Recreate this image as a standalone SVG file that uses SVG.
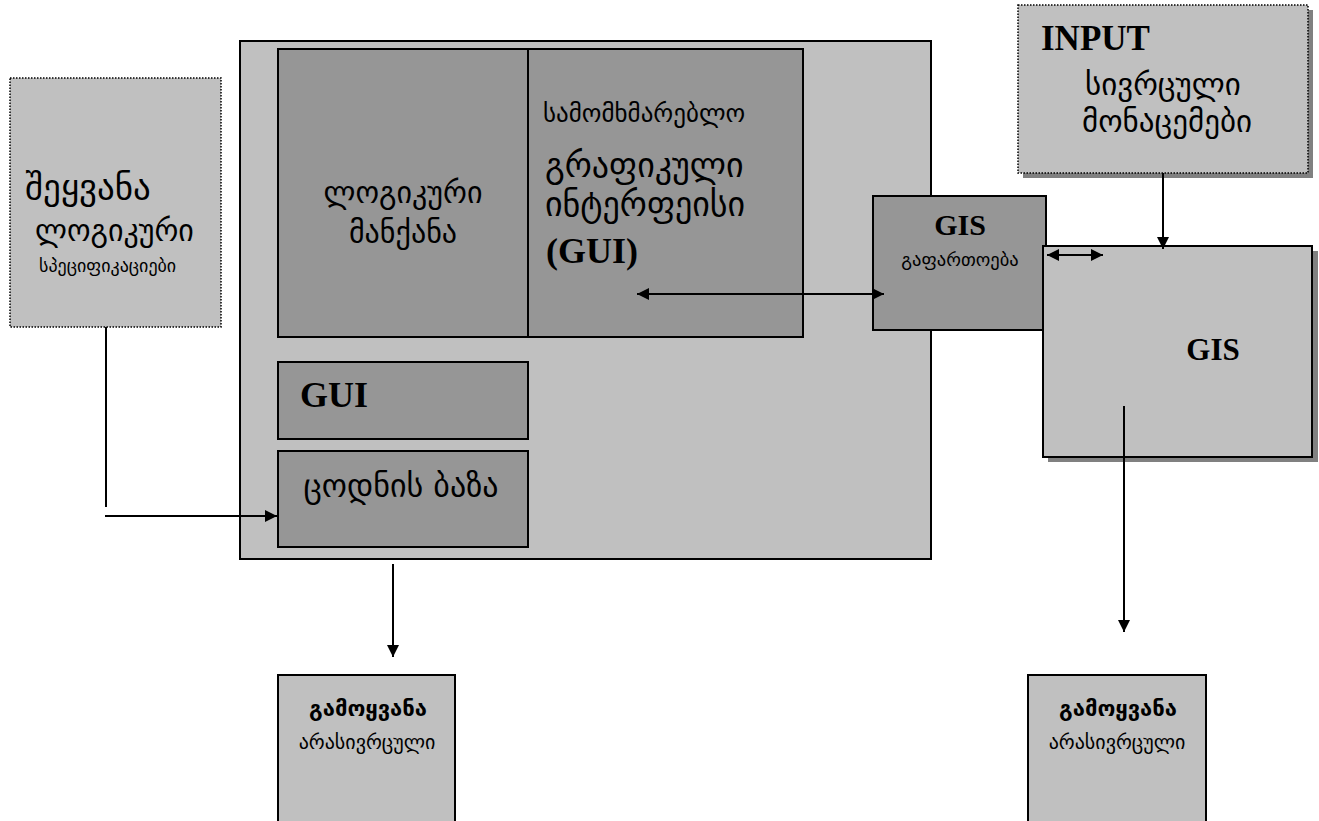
<svg xmlns="http://www.w3.org/2000/svg" width="1319" height="821" viewBox="0 0 1319 821">
<style>
.light{fill:#c0c0c0;stroke:#000;stroke-width:2}
.dark{fill:#969696;stroke:#000;stroke-width:2}
.dotted{fill:#c0c0c0;stroke:#000;stroke-width:1.5;stroke-dasharray:1.5 1.5}
.shadow{fill:#808080}
.ka{font-family:"DejaVu Sans","Noto Sans",sans-serif;fill:#000}
.lat{font-family:"Liberation Serif","Times New Roman",serif;font-weight:bold;fill:#000}
.ln{stroke:#000;stroke-width:2;fill:none}
</style>
<defs>
<marker id="ah" viewBox="0 0 10 10" refX="10" refY="5" markerWidth="14" markerHeight="12" markerUnits="userSpaceOnUse" orient="auto-start-reverse">
<path d="M0,0 L10,5 L0,10 Z" fill="#000"/>
</marker>
</defs>
<rect width="1319" height="821" fill="#fff"/>

<g id="input-logic">
<rect class="dotted" x="10" y="78" width="211" height="249"/>
<text class="ka" x="25" y="199" font-size="35">შეყვანა</text>
<text class="ka" x="35" y="241" font-size="30">ლოგიკური</text>
<text class="ka" x="39" y="272" font-size="18">სპეციფიკაციები</text>
</g>

<g id="main">
<rect class="light" x="240" y="41" width="691" height="518"/>
</g>

<g id="logic-machine">
<rect class="dark" x="278" y="49" width="250" height="288"/>
<text class="ka" x="403" y="203" font-size="30" text-anchor="middle">ლოგიკური</text>
<text class="ka" x="403" y="243" font-size="30" text-anchor="middle">მანქანა</text>
</g>

<g id="gui-interface">
<rect class="dark" x="528" y="49" width="275" height="288"/>
<text class="ka" x="543" y="122" font-size="25">სამომხმარებლო</text>
<text class="ka" x="545" y="177" font-size="34">გრაფიკული</text>
<text class="ka" x="545" y="216" font-size="34">ინტერფეისი</text>
<text class="lat" x="546" y="263" font-size="36">(GUI)</text>
</g>

<g id="gui">
<rect class="dark" x="278" y="362" width="250" height="77"/>
<text class="lat" x="300" y="407" font-size="36">GUI</text>
</g>

<g id="knowledge-base">
<rect class="dark" x="278" y="451" width="250" height="96"/>
<text class="ka" x="401" y="497" font-size="32" text-anchor="middle">ცოდნის ბაზა</text>
</g>

<g id="gis-extension">
<rect class="dark" x="873" y="196" width="173" height="134"/>
<text class="lat" x="960" y="235" font-size="30" text-anchor="middle">GIS</text>
<text class="ka" x="960" y="266" font-size="18.5" text-anchor="middle">გაფართოება</text>
</g>

<g id="input-spatial">
<rect class="shadow" x="1023" y="10" width="290" height="168"/>
<rect class="dotted" x="1018" y="5" width="290" height="168"/>
<text class="lat" x="1041" y="50" font-size="35">INPUT</text>
<text class="ka" x="1085" y="95" font-size="31">სივრცული</text>
<text class="ka" x="1082" y="132" font-size="31">მონაცემები</text>
</g>

<g id="gis">
<rect class="shadow" x="1048" y="251" width="270" height="211"/>
<rect class="light" x="1043" y="246" width="269" height="211"/>
<text class="lat" x="1213" y="360" font-size="31" text-anchor="middle">GIS</text>
</g>

<g id="output-left">
<rect class="light" x="278" y="675" width="177" height="160"/>
<text class="ka" x="368" y="716" font-size="22" font-weight="bold" text-anchor="middle">გამოყვანა</text>
<text class="ka" x="367" y="749" font-size="20" text-anchor="middle">არასივრცული</text>
</g>

<g id="output-right">
<rect class="light" x="1028" y="675" width="178" height="160"/>
<text class="ka" x="1118" y="716" font-size="22" font-weight="bold" text-anchor="middle">გამოყვანა</text>
<text class="ka" x="1117" y="749" font-size="20" text-anchor="middle">არასივრცული</text>
</g>

<g id="connectors">
<polyline class="ln" points="106,327 106,507"/>
<line class="ln" x1="105" y1="516" x2="277" y2="516" marker-end="url(#ah)"/>
<line class="ln" x1="637" y1="294" x2="884" y2="294" marker-start="url(#ah)" marker-end="url(#ah)"/>
<line class="ln" x1="1047" y1="255" x2="1103" y2="255" marker-start="url(#ah)" marker-end="url(#ah)"/>
<line class="ln" x1="1163" y1="173" x2="1163" y2="249" marker-end="url(#ah)"/>
<line class="ln" x1="393" y1="564" x2="393" y2="657" marker-end="url(#ah)"/>
<line class="ln" x1="1124" y1="406" x2="1124" y2="632" marker-end="url(#ah)"/>
</g>
</svg>
